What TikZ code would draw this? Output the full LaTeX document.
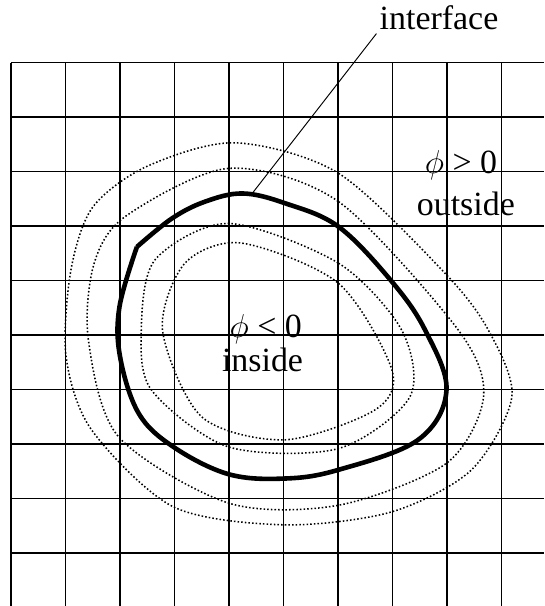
\documentclass[tikz,border=0pt]{standalone}
\usepackage{fontspec}
\setmainfont{Liberation Serif}
\begin{document}
\begin{tikzpicture}[
    gridline/.style={line width=0.75pt},
    levelset/.style={line width=0.8pt, dash pattern=on 0.8pt off 1.1pt},
    frontline/.style={line width=2.4pt, line join=round},
    lbl/.style={font=\fontsize{17.7}{21}\selectfont, inner sep=0pt, anchor=base}]
    \useasboundingbox (-0.202,-9.969) rectangle (9.780,1.150);

    % 网格
    \foreach \i in {0,...,9} {
        \draw[gridline] (\i,0) -- (\i,-9.969);
        \draw[gridline] (0,-\i) -- (9.780,-\i);
    }

    % 等值线 (外)
    \draw[levelset] plot[smooth cycle] coordinates {
        (4.11,-1.47) (6.01,-2.03) (7.96,-3.86) (8.76,-4.91) (9.19,-6.13)
        (8.45,-7.47) (6.99,-8.24) (5.03,-8.48) (2.98,-8.15) (1.48,-6.74)
        (1.01,-5.39) (1.10,-3.80) (1.50,-2.65) (2.50,-1.90)};
    \draw[levelset] plot[smooth cycle] coordinates {
        (3.99,-1.94) (6.01,-2.55) (8.21,-4.91) (8.67,-6.13) (7.99,-7.35)
        (6.01,-8.12) (3.99,-8.08) (1.97,-6.86) (1.42,-5.09) (1.52,-3.70)
        (2.10,-2.82)};

    % 等值线 (内)
    \draw[levelset] plot[smooth cycle] coordinates {
        (3.99,-2.95) (6.01,-3.68) (7.17,-4.91) (7.32,-6.13) (6.01,-7.08)
        (3.99,-7.05) (2.58,-6.01) (2.39,-4.91) (2.64,-3.62)};
    \draw[levelset] plot[smooth cycle] coordinates {
        (4.23,-3.31) (6.01,-4.05) (6.99,-5.64) (6.68,-6.37) (5.03,-6.92)
        (3.50,-6.50) (2.78,-4.91) (3.19,-3.68)};

    % 界面
    \draw[frontline] plot[smooth, tension=0.6] coordinates {
        (2.31,-3.38) (2.95,-2.86) (3.56,-2.55) (4.25,-2.40) (5.03,-2.58)
        (6.01,-3.01) (6.99,-4.02) (7.60,-4.91) (7.99,-6.01) (7.47,-6.92)
        (6.01,-7.47) (5.03,-7.63) (3.99,-7.55) (2.98,-7.05) (2.34,-6.43)
        (2.00,-5.39) (1.99,-4.48) (2.31,-3.38)};
    \coordinate (tip) at (4.417,-2.41);

    % 标注
    \node[lbl, inner sep=1.5pt] (interface) at (7.853,0.600) {interface};
    \draw[line width=0.5pt] (interface.south west) -- (tip);
    \node[lbl] (phipos) at (8.257,-2.029) {$\phi$ > 0};
    \node[lbl] (outside) at (8.345,-2.795) {outside};
    \node[lbl] (phineg) at (4.675,-5.039) {$\phi$ < 0};
    \node[lbl] (inside) at (4.615,-5.675) {inside};
\end{tikzpicture}
\end{document}
